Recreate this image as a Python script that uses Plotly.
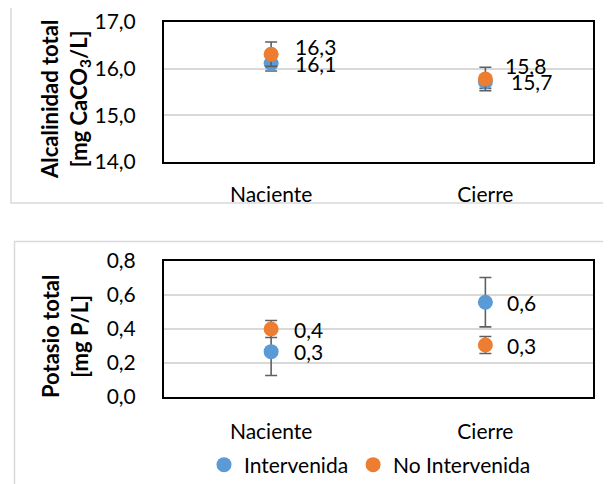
import plotly.graph_objects as go

categories = ["Naciente", "Cierre"]

# Panel 1: Alcalinidad total [mg CaCO3/L]
alc_intervenida = [16.11, 15.72]
alc_intervenida_err = [0.16, 0.14]
alc_no_intervenida = [16.31, 15.78]
alc_no_intervenida_err = [0.26, 0.25]

# Panel 2: Potasio total [mg P/L]
pot_intervenida = [0.265, 0.556]
pot_intervenida_err = [0.14, 0.145]
pot_no_intervenida = [0.398, 0.304]
pot_no_intervenida_err = [0.05, 0.05]

alc_ticks = [14, 15, 16, 17]
pot_ticks = [0.0, 0.2, 0.4, 0.6, 0.8]

BLUE = "#5B9BD5"
ORANGE = "#ED7D31"
ERR = "#5f5f5f"
FONT = "Lato"
W, H = 611, 484
OFF = 8  # page body margin that offsets the figure in the browser


def px_x(p):
    return (p - OFF) / W


def px_y(p):
    return 1 - (p - OFF) / H


def fmt(v):
    return f"{v:.1f}".replace(".", ",")


fig = go.Figure()


def add_series(x_ax, y_ax, vals, errs, color, name, show):
    fig.add_trace(go.Scatter(
        x=categories, y=vals, mode="markers", name=name,
        xaxis=x_ax, yaxis=y_ax, showlegend=show, legendgroup=name,
        marker=dict(color=color, size=15),
        error_y=dict(type="data", array=errs, visible=True,
                     color=ERR, thickness=1.6, width=6),
    ))


add_series("x", "y", alc_intervenida, alc_intervenida_err, BLUE, "Intervenida", False)
add_series("x", "y", alc_no_intervenida, alc_no_intervenida_err, ORANGE, "No Intervenida", False)
add_series("x2", "y2", pot_intervenida, pot_intervenida_err, BLUE, "Intervenida", True)
add_series("x2", "y2", pot_no_intervenida, pot_no_intervenida_err, ORANGE, "No Intervenida", True)

tickfont = dict(family=FONT, size=21, color="#000000")
xdom = [px_x(164), px_x(592.5)]

axis_common = dict(showline=True, linecolor="#000000", linewidth=2, mirror=True,
                   tickfont=tickfont, zeroline=False, automargin=False, ticks="")

fig.update_layout(
    template="none",
    width=W, height=H,
    margin=dict(l=0, r=0, t=0, b=0, pad=0, autoexpand=False),
    paper_bgcolor="white", plot_bgcolor="white",
    separators=",.",
    font=dict(family=FONT, size=21, color="#000000"),
    xaxis=dict(domain=xdom, anchor="y", type="category", range=[-0.5, 1.5],
               showgrid=False, ticklabelstandoff=13, **axis_common),
    yaxis=dict(domain=[px_y(162), px_y(22)], anchor="x", range=[14, 17],
               tickvals=alc_ticks, tickformat=".1f", showgrid=True,
               gridcolor="#d9d9d9", gridwidth=2, ticklabelstandoff=22,
               **axis_common),
    xaxis2=dict(domain=xdom, anchor="y2", type="category", range=[-0.5, 1.5],
                showgrid=False, ticklabelstandoff=15, **axis_common),
    yaxis2=dict(domain=[px_y(396.7), px_y(260.7)], anchor="x2", range=[0, 0.8],
                tickvals=pot_ticks, tickformat=".1f", showgrid=True,
                gridcolor="#d9d9d9", gridwidth=2, ticklabelstandoff=22,
                **axis_common),
    legend=dict(orientation="h", x=px_x(370), y=px_y(465), xanchor="center",
                yanchor="middle", font=dict(family=FONT, size=21),
                itemwidth=30, tracegroupgap=0, bgcolor="rgba(0,0,0,0)",
                borderwidth=0),
    showlegend=True,
)

# outer chart borders
fig.add_shape(type="rect", xref="paper", yref="paper",
              x0=px_x(11), x1=px_x(640), y0=px_y(203), y1=px_y(5),
              line=dict(color="#d9d9d9", width=1.5), layer="below")
fig.add_shape(type="rect", xref="paper", yref="paper",
              x0=px_x(14.5), x1=px_x(640), y0=px_y(520), y1=px_y(241.5),
              line=dict(color="#d9d9d9", width=1.5), layer="below")

# axis titles
fig.add_annotation(xref="paper", yref="paper", x=px_x(65), y=px_y(100),
                   text="<b>Alcalinidad total<br>[mg CaCO<sub>3</sub>/L]</b>",
                   textangle=-90, showarrow=False, xanchor="center", yanchor="middle",
                   font=dict(family=FONT, size=22, color="#000000"))
fig.add_annotation(xref="paper", yref="paper", x=px_x(65), y=px_y(337),
                   text="<b>Potasio total<br>[mg P/L]</b>",
                   textangle=-90, showarrow=False, xanchor="center", yanchor="middle",
                   font=dict(family=FONT, size=22, color="#000000"))

# data labels
label_font = dict(family=FONT, size=21, color="#000000")


def add_labels(x_ax, y_ax, vals, shifts):
    for cat, v, (dx, dy) in zip(categories, vals, shifts):
        fig.add_annotation(xref=x_ax, yref=y_ax, x=cat, y=v, text=fmt(v),
                           showarrow=False, xanchor="left", yanchor="middle",
                           xshift=dx, yshift=dy, font=label_font)


add_labels("x", "y", alc_intervenida, [(22, 0), (24, 0)])
add_labels("x", "y", alc_no_intervenida, [(22, 8), (18, 13)])
add_labels("x2", "y2", pot_intervenida, [(21, 0), (20, 0)])
add_labels("x2", "y2", pot_no_intervenida, [(21, 0), (20, 0)])

fig.write_html("out.html")
